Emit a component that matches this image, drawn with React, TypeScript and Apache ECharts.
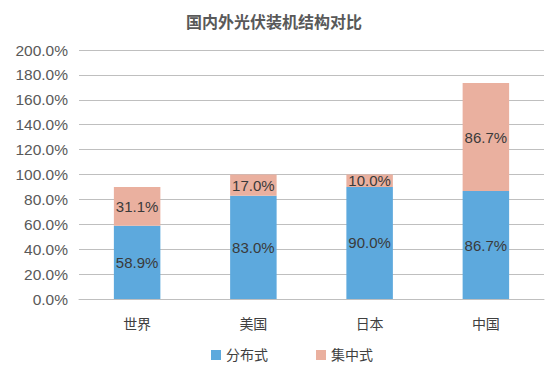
import React, { useEffect, useRef } from "react";
import * as echarts from "echarts";

const categories = ["世界", "美国", "日本", "中国"];
const distributed = [58.9, 83.0, 90.0, 86.7];
const centralized = [31.1, 17.0, 10.0, 86.7];
const seriesNames = ["分布式", "集中式"];

const FONT = "'Liberation Sans', 'Noto Sans CJK SC', sans-serif";

export default function App() {
  const ref = useRef<HTMLDivElement>(null);
  useEffect(() => {
    if (!ref.current) return;
    const chart = echarts.init(ref.current, undefined, { renderer: "svg" });
    const label = {
      show: true,
      position: "inside" as const,
      color: "#3a3a3a",
      fontSize: 15,
      fontFamily: FONT,
      formatter: (p: any) => p.value.toFixed(1) + "%",
    };
    chart.setOption({
      animation: false,
      backgroundColor: "#ffffff",
      title: {
        text: "国内外光伏装机结构对比",
        left: 181,
        top: 9,
        textStyle: { fontSize: 16, fontWeight: "bold", color: "#595959", fontFamily: FONT },
      },
      legend: {
        top: 343,
        left: 206,
        itemWidth: 10,
        itemHeight: 10,
        itemGap: 48,
        icon: "rect",
        textStyle: { fontSize: 14, color: "#404040", fontFamily: FONT },
        data: seriesNames,
      },
      grid: { left: 79, right: 14, top: 50, bottom: 75, containLabel: false },
      xAxis: {
        type: "category",
        data: categories,
        axisLine: { lineStyle: { color: "#bfbfbf" } },
        axisTick: { show: false },
        axisLabel: { fontSize: 14, color: "#404040", fontFamily: FONT, margin: 18 },
      },
      yAxis: {
        type: "value",
        min: 0,
        max: 200,
        interval: 20,
        axisLine: { show: false },
        axisTick: { show: false },
        splitLine: { lineStyle: { color: "#bfbfbf" } },
        axisLabel: {
          fontSize: 15.5,
          color: "#595959",
          fontFamily: FONT,
          margin: 11,
          formatter: (v: number) => v.toFixed(1) + "%",
        },
      },
      series: [
        {
          name: seriesNames[0],
          type: "bar",
          stack: "total",
          data: distributed,
          barWidth: "40%",
          itemStyle: { color: "#5DA9DD" },
          label,
        },
        {
          name: seriesNames[1],
          type: "bar",
          stack: "total",
          data: centralized,
          barWidth: "40%",
          itemStyle: { color: "#EAB09F" },
          label,
        },
      ],
    });
    return () => chart.dispose();
  }, []);
  return (
    <div
      ref={ref}
      style={{ position: "absolute", left: 0, top: 0, width: 558, height: 374 }}
    />
  );
}
